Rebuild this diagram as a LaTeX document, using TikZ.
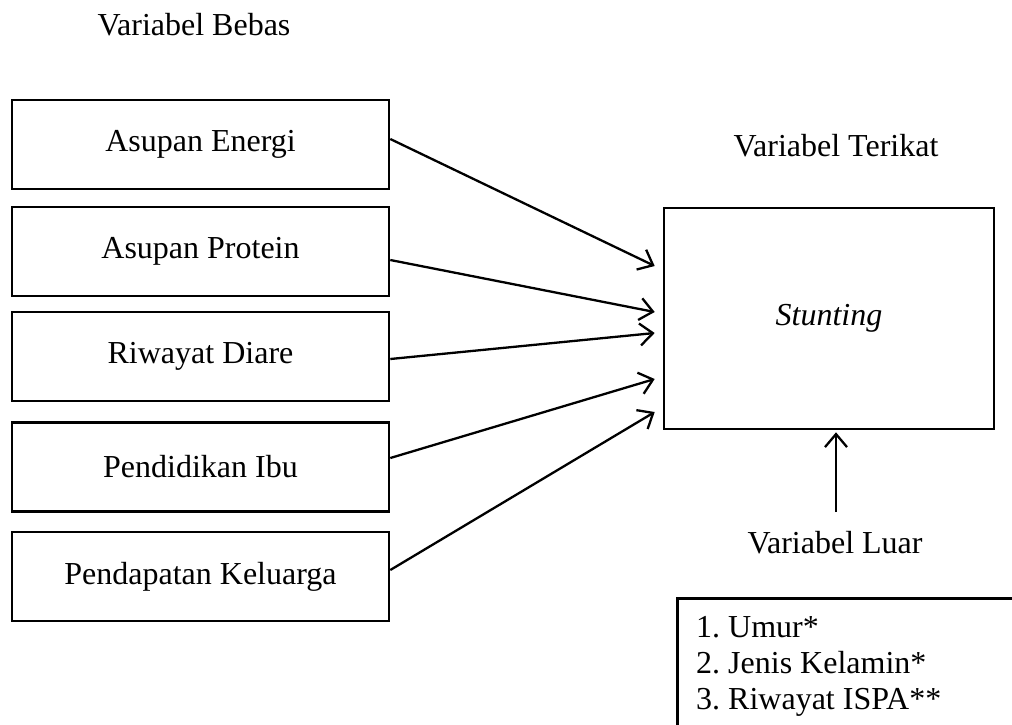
\documentclass[tikz,border=0pt]{standalone}
\usepackage{fontspec}
\setmainfont{Liberation Serif}
\usetikzlibrary{arrows.meta}
\frenchspacing
\begin{document}
\begin{tikzpicture}[x=1pt,y=-1pt,
  every node/.style={font=\fontsize{32}{36}\selectfont},
  varbox/.style={draw,line width=2.6pt,minimum width=377pt,minimum height=89pt,inner sep=0pt},
  arr/.style={line width=2.3pt,-{Straight Barb[length=13pt,width=22pt,line width=2.3pt]}},
  lbl/.style={inner sep=0pt,anchor=base}]
\useasboundingbox (0,0) rectangle (1012,724);
\clip (0,0) rectangle (1012,724);
\node[lbl] (bebas) at (194,35) {Variabel Bebas};
\node[lbl] (terikat) at (836,156) {Variabel Terikat};
\node[varbox] (e1) at (200.5,144.5) {Asupan Energi};
\node[varbox] (e2) at (200.5,251.5) {Asupan Protein};
\node[varbox] (e3) at (200.5,356.5) {Riwayat Diare};
\node[varbox] (e4) at (200.5,467) {Pendidikan Ibu};
\node[varbox] (e5) at (200.5,576.5) {Pendapatan Keluarga};
\node[draw,line width=2.6pt,minimum width=330pt,minimum height=221pt,inner sep=0pt] (st) at (829,318.5) {\textit{Stunting}};
\draw[arr] ([yshift=5.5pt]e1.east) -- ([xshift=-8pt,yshift=52.5pt]st.west);
\draw[arr] ([yshift=-8.5pt]e2.east) -- ([xshift=-8pt,yshift=6.5pt]st.west);
\draw[arr] ([yshift=-2.5pt]e3.east) -- ([xshift=-8pt,yshift=-14.5pt]st.west);
\draw[arr] ([yshift=9pt]e4.east) -- ([xshift=-8pt,yshift=-60.5pt]st.west);
\draw[arr] ([yshift=6.5pt]e5.east) -- ([xshift=-8pt,yshift=-93.5pt]st.west);
\coordinate (lb) at (836,512);
\draw[arr] (lb) -- ([xshift=7pt,yshift=-2pt]st.south);
\node[lbl] (luar) at (835,553) {Variabel Luar};
\node[draw,line width=2.6pt,anchor=north west,minimum width=400pt,minimum height=200pt,inner sep=0pt] (listbox) at (676,597) {};
\node[anchor=base west,align=left,inner sep=0pt] (list) at (696,709)
  {1. Umur*\\2. Jenis Kelamin*\\3. Riwayat ISPA**};
\end{tikzpicture}
\end{document}
